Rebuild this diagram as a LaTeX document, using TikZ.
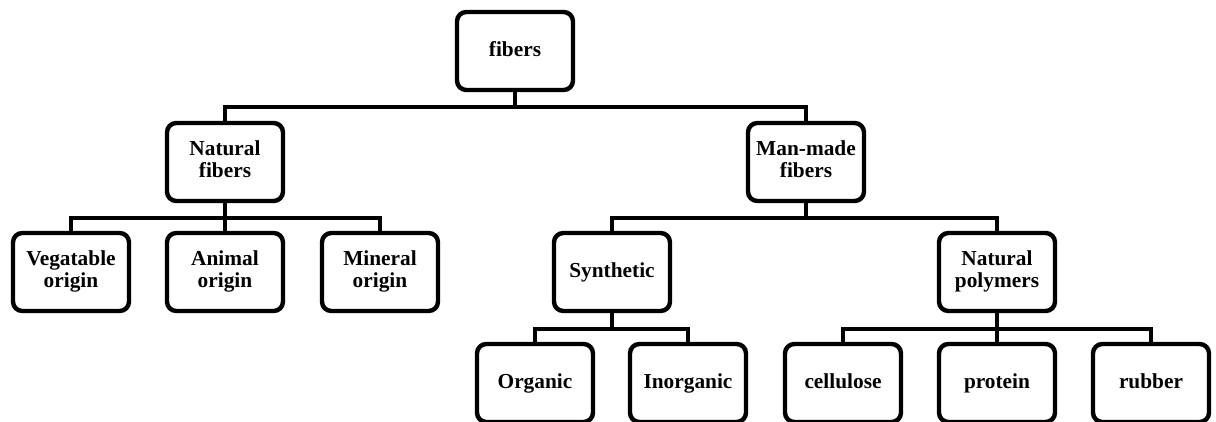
\documentclass[tikz,border=0pt]{standalone}
\usepackage{fontspec}
\setmainfont{Liberation Serif}
% invisible strut that keeps every line of a box at the same height and depth
\newcommand{\boxstrut}{\rule[-0.26\baselineskip]{0pt}{\baselineskip}}
\begin{document}
\begin{tikzpicture}[x=0.75pt,y=-0.75pt,
  box/.style={draw=black, line width=3.3pt, rounded corners=7pt, fill=white,
    minimum width=87pt, minimum height=58.5pt, align=center, inner sep=2pt,
    font=\bfseries\fontsize{16}{16.6}\selectfont,
    execute at begin node=\boxstrut, execute at end node=\boxstrut},
  link/.style={draw=black, line width=3.3pt}]
\useasboundingbox (0,0) rectangle (1216,421);

% tree levels
\node[box] (fib) at (515,51) {fibers};

\node[box] (nat) at (225,162) {Natural\\fibers};
\node[box] (man) at (806,162) {Man-made\\fibers};

\node[box] (veg) at (71,272)  {Vegatable\\origin};
\node[box] (ani) at (225,272) {Animal\\origin};
\node[box] (min) at (380,272) {Mineral\\origin};
\node[box] (syn) at (612,272) {Synthetic};
\node[box] (pol) at (997,272) {Natural\\polymers};

\node[box] (org) at (535,383)  {Organic};
\node[box] (ino) at (688,383)  {Inorganic};
\node[box] (cel) at (843,383)  {cellulose};
\node[box] (pro) at (997,383)  {protein};
\node[box] (rub) at (1151,383) {rubber};

% connectors: stub down to a bar, then down into each child
\foreach \p/\c/\y in {fib/nat/107, fib/man/107,
                      nat/veg/218, nat/ani/218, nat/min/218,
                      man/syn/218, man/pol/218,
                      syn/org/329, syn/ino/329,
                      pol/cel/329, pol/pro/329, pol/rub/329}
  \draw[link] (\p.south) -- (\p.south |- 0,\y) -| (\c.north);
\end{tikzpicture}
\end{document}
